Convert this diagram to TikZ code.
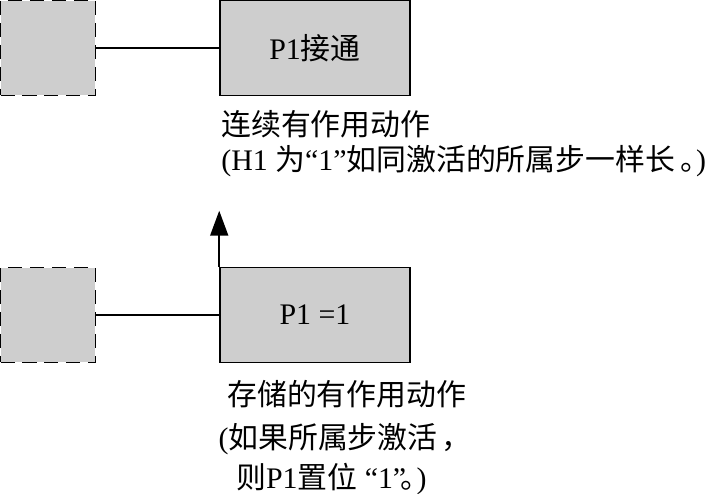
\documentclass[tikz,border=0pt]{standalone}
\usepackage{fontspec}
\setmainfont{Liberation Serif}
\newfontfamily\cjk{Noto Sans CJK SC}
\newcommand{\zh}[1]{{\cjk #1}}
\newcommand{\stopmark}{\makebox[9pt][l]{\zh{。}}}
\newcommand{\notefont}{\fontsize{17}{19.5}\selectfont\lineskiplimit=-20pt\relax}
\usetikzlibrary{arrows.meta}
\definecolor{boxgray}{RGB}{206,206,206}

\tikzset{
  actbox/.style={draw, fill=boxgray, line width=0.9pt, minimum width=3.8cm,
    minimum height=1.9cm, inner sep=0pt, font=\fontsize{17}{20}\selectfont},
  stepbox/.style={draw, fill=boxgray, dash pattern=on 8pt off 4.5pt,
    line width=1.1pt, minimum width=1.9cm, minimum height=1.9cm, inner sep=0pt},
  note/.style={anchor=base west, align=left, inner sep=0pt, font=\notefont}
}

\begin{document}
\begin{tikzpicture}[x=0.02cm, y=-0.02cm]
  \useasboundingbox (0,0) rectangle (711,494);
  %% 1. Continuous action
  \node[stepbox] (s1) at (48,48) {};
  \node[actbox] (a1) at (315,48) {P1\zh{接通}};
  \draw[line width=0.7pt] (s1) -- (a1);
  \node[note] (n1) at (221,170)
    {\zh{连续有作用动作}\\(H1 \zh{为}“1”\zh{如同激活的所属步一样长}\hspace{3pt}\stopmark)};
  %% 2. Stored action
  \node[stepbox] (s2) at (48,315) {};
  \node[actbox] (a2) at (315,315) {P1 =1};
  \draw[line width=0.7pt] (s2) -- (a2);
  \draw[line width=1pt, -{Triangle[length=0.5cm, width=0.36cm]}]
    (a2.north west) -- ++(0,-56);
  \node[note] (n2) at (227,488)
    {\zh{存储的有作用动作}\\[5pt]\hspace*{-5pt}(\zh{如果所属步激活}\hspace{2pt}\zh{，}\\[3pt]
     \hspace*{5pt}\zh{则}P1\zh{置位} “1”\hspace{-3pt}\stopmark)};
\end{tikzpicture}
\end{document}
